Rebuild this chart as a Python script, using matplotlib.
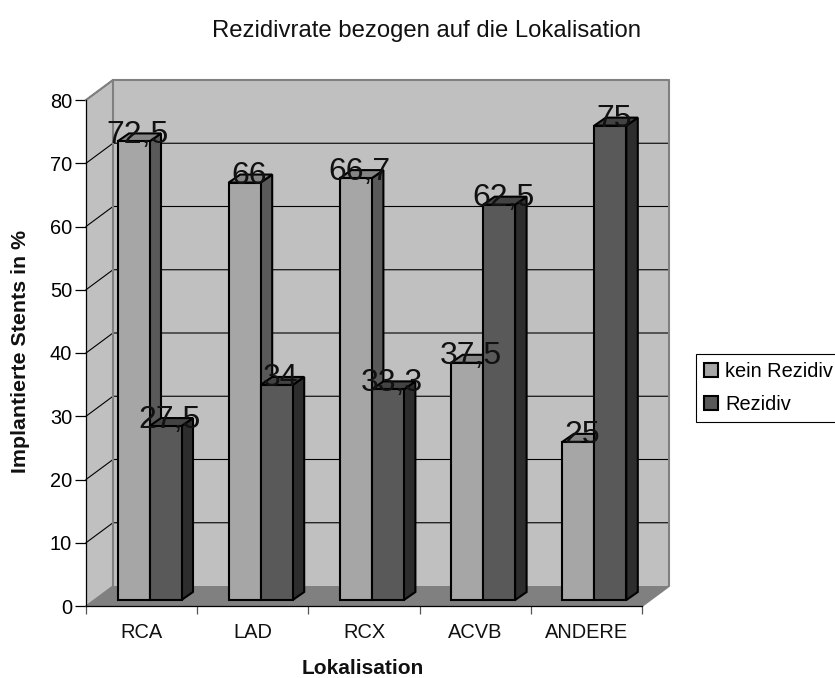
import matplotlib
matplotlib.use("Agg")
import matplotlib.pyplot as plt
from matplotlib.patches import Polygon, Patch
import numpy as np

plt.rcParams['font.family'] = ['Liberation Sans', 'DejaVu Sans']

categories = ["RCA", "LAD", "RCX", "ACVB", "ANDERE"]
kein_rezidiv = [72.5, 66, 66.7, 37.5, 25]
rezidiv = [27.5, 34, 33.3, 62.5, 75]
kein_labels = ["72,5", "66", "66,7", "37,5", "25"]
rezidiv_labels = ["27,5", "34", "33,3", "62,5", "75"]
y_ticks = [0, 10, 20, 30, 40, 50, 60, 70, 80]

W, H = 835, 678
fig = plt.figure(figsize=(W / 100, H / 100), dpi=100)
# front plane of the fake 3d box, in pixels
left, right, y_bot, y_top = 86, 642, 606, 100
ax = fig.add_axes([left / W, 1 - y_bot / H, (right - left) / W, (y_bot - y_top) / H])
ax.set_xlim(0, 5)
ax.set_ylim(0, 80)
px = 5 / (right - left)
py = 80 / (y_bot - y_top)

# wall depth and bar geometry
dx, dy = 27 * px, 20 * py
bar_w = 32 * px
bar_dx, bar_dy = 11.5 * px, 8 * py
base = 6 * py
start = 31.5 * px

LIGHT, LIGHT_SIDE, LIGHT_TOP = "#a6a6a6", "#595959", "#858585"
DARK, DARK_SIDE, DARK_TOP = "#595959", "#2d2d2d", "#434343"


def poly(pts, fc, ec="none", lw=0, z=1):
    ax.add_patch(Polygon(pts, closed=True, facecolor=fc, edgecolor=ec,
                         linewidth=lw, zorder=z, clip_on=False, joinstyle="miter"))


# back wall, side wall, floor
poly([(dx, dy), (5 + dx, dy), (5 + dx, 80 + dy), (dx, 80 + dy)], "#c0c0c0", z=1)
poly([(0, 0), (dx, dy), (dx, 80 + dy), (0, 80)], "#c0c0c0", z=1)
poly([(0, 0), (5, 0), (5 + dx, dy), (dx, dy)], "#808080", z=1)

# gridlines
for t in y_ticks[1:]:
    ax.plot([0, dx, 5 + dx], [t, t + dy, t + dy], color="black", lw=0.8, zorder=2, clip_on=False)

# wall outline
ax.plot([0, dx, 5 + dx, 5 + dx, 5], [80, 80 + dy, 80 + dy, dy, 0],
        color="#808080", lw=1.5, zorder=3, clip_on=False)
ax.plot([dx, dx], [dy, 80 + dy], color="#808080", lw=1.5, zorder=3, clip_on=False)
ax.plot([0, dx], [0, dy], color="#808080", lw=1, zorder=3, clip_on=False)


def bar3d(x, v, fc, side, top, z):
    ax.bar(x, v, bar_w, bottom=base, align="edge", facecolor=fc, edgecolor="black",
           linewidth=1.5, zorder=z + 1, clip_on=False)
    x1 = x + bar_w
    h = base + v
    poly([(x1, base), (x1 + bar_dx, base + bar_dy), (x1 + bar_dx, h + bar_dy), (x1, h)],
         side, "black", 1.5, z)
    poly([(x, h), (x1, h), (x1 + bar_dx, h + bar_dy), (x + bar_dx, h + bar_dy)],
         top, "black", 1.5, z)


xpos = np.arange(len(categories)) + start
for i in range(len(categories)):
    z = 5 + i * 4
    bar3d(xpos[i], kein_rezidiv[i], LIGHT, LIGHT_SIDE, LIGHT_TOP, z)
    bar3d(xpos[i] + bar_w, rezidiv[i], DARK, DARK_SIDE, DARK_TOP, z + 2)

# data labels sit over the bar tops
for i in range(len(categories)):
    ax.text(xpos[i] + bar_w / 2 + 4 * px, base + kein_rezidiv[i] + 6.5 * py, kein_labels[i],
            ha="center", va="center", fontsize=23, color="#111111", zorder=50)
    ax.text(xpos[i] + bar_w * 1.5 + 4 * px, base + rezidiv[i] + 6.5 * py, rezidiv_labels[i],
            ha="center", va="center", fontsize=23, color="#111111", zorder=50)

for s in ["top", "right"]:
    ax.spines[s].set_visible(False)
for s in ["left", "bottom"]:
    ax.spines[s].set_linewidth(0.9)
    ax.spines[s].set_zorder(60)
ax.patch.set_visible(False)

ax.set_yticks(y_ticks)
ax.tick_params(axis="y", length=8, width=0.9, labelsize=14.4, pad=2)
ax.set_xticks(range(6))
ax.set_xticklabels([])
ax.tick_params(axis="x", length=6, width=0.9, color="#555555")
for i, c in enumerate(categories):
    ax.text(i + 0.5, -4.2, c, ha="center", va="center", fontsize=14.4, color="#111111")

fig.text(427 / W, 1 - 31 / H, "Rezidivrate bezogen auf die Lokalisation",
         ha="center", va="center", fontsize=17.2, color="#111111")
fig.text(363 / W, 1 - 668 / H, "Lokalisation", ha="center", va="center",
         fontsize=15, fontweight="bold", color="#111111")
fig.text(21 / W, 1 - 351.5 / H, "Implantierte Stents in %", ha="center", va="center",
         rotation=90, fontsize=15.4, fontweight="bold", color="#111111")

handles = [Patch(facecolor=LIGHT, edgecolor="black", linewidth=1.5, label="kein Rezidiv"),
           Patch(facecolor=DARK, edgecolor="black", linewidth=1.5, label="Rezidiv")]
leg = ax.legend(handles=handles, loc="upper left", bbox_to_anchor=(696 / W, 1 - 354 / H),
                bbox_transform=fig.transFigure, fontsize=14.4, frameon=True, fancybox=False,
                edgecolor="black", framealpha=1, borderpad=0.4, labelspacing=0.72,
                handlelength=0.7, handleheight=0.7, handletextpad=0.35, borderaxespad=0)
leg.get_frame().set_linewidth(0.8)
leg.set_zorder(70)

fig.savefig("out.png", dpi=100, facecolor="white")
